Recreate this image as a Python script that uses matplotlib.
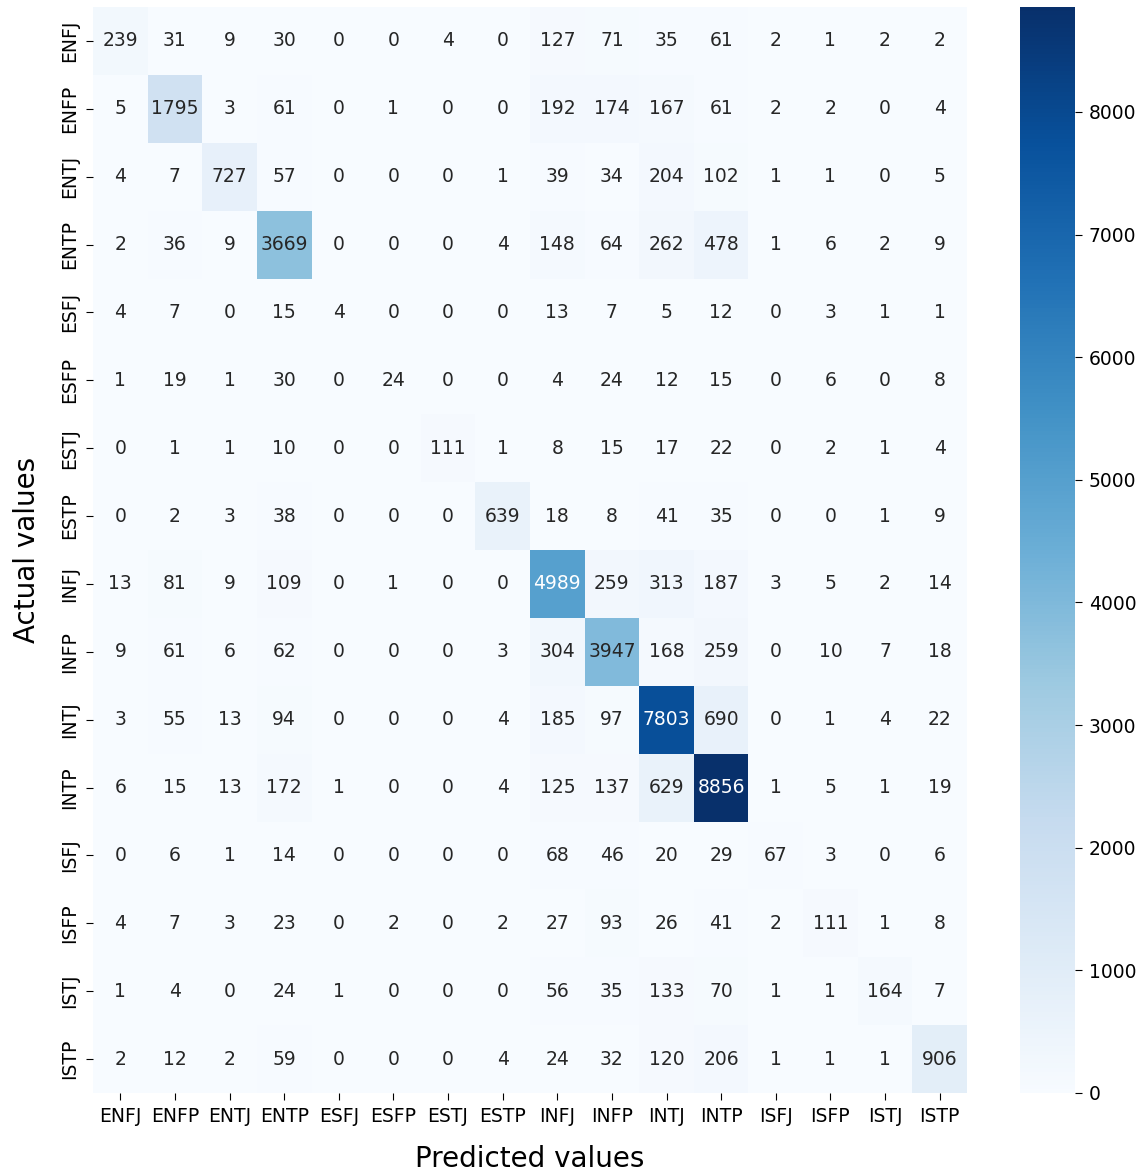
import numpy as np
import matplotlib
matplotlib.use("Agg")
import matplotlib.pyplot as plt
import seaborn as sns

labels = ["ENFJ", "ENFP", "ENTJ", "ENTP", "ESFJ", "ESFP", "ESTJ", "ESTP",
          "INFJ", "INFP", "INTJ", "INTP", "ISFJ", "ISFP", "ISTJ", "ISTP"]

row_enfj = [239, 31, 9, 30, 0, 0, 4, 0, 127, 71, 35, 61, 2, 1, 2, 2]
row_enfp = [5, 1795, 3, 61, 0, 1, 0, 0, 192, 174, 167, 61, 2, 2, 0, 4]
row_entj = [4, 7, 727, 57, 0, 0, 0, 1, 39, 34, 204, 102, 1, 1, 0, 5]
row_entp = [2, 36, 9, 3669, 0, 0, 0, 4, 148, 64, 262, 478, 1, 6, 2, 9]
row_esfj = [4, 7, 0, 15, 4, 0, 0, 0, 13, 7, 5, 12, 0, 3, 1, 1]
row_esfp = [1, 19, 1, 30, 0, 24, 0, 0, 4, 24, 12, 15, 0, 6, 0, 8]
row_estj = [0, 1, 1, 10, 0, 0, 111, 1, 8, 15, 17, 22, 0, 2, 1, 4]
row_estp = [0, 2, 3, 38, 0, 0, 0, 639, 18, 8, 41, 35, 0, 0, 1, 9]
row_infj = [13, 81, 9, 109, 0, 1, 0, 0, 4989, 259, 313, 187, 3, 5, 2, 14]
row_infp = [9, 61, 6, 62, 0, 0, 0, 3, 304, 3947, 168, 259, 0, 10, 7, 18]
row_intj = [3, 55, 13, 94, 0, 0, 0, 4, 185, 97, 7803, 690, 0, 1, 4, 22]
row_intp = [6, 15, 13, 172, 1, 0, 0, 4, 125, 137, 629, 8856, 1, 5, 1, 19]
row_isfj = [0, 6, 1, 14, 0, 0, 0, 0, 68, 46, 20, 29, 67, 3, 0, 6]
row_isfp = [4, 7, 3, 23, 0, 2, 0, 2, 27, 93, 26, 41, 2, 111, 1, 8]
row_istj = [1, 4, 0, 24, 1, 0, 0, 0, 56, 35, 133, 70, 1, 1, 164, 7]
row_istp = [2, 12, 2, 59, 0, 0, 0, 4, 24, 32, 120, 206, 1, 1, 1, 906]

matrix = np.array([row_enfj, row_enfp, row_entj, row_entp, row_esfj, row_esfp,
                   row_estj, row_estp, row_infj, row_infp, row_intj, row_intp,
                   row_isfj, row_isfp, row_istj, row_istp])

fig = plt.figure(figsize=(11.44, 11.74), dpi=100)
W, H = 1144, 1174
ax = fig.add_axes([93 / W, 1 - 1093 / H, (967 - 93) / W, (1093 - 7) / H])
cax = fig.add_axes([1020 / W, 1 - 1093 / H, (1075 - 1020) / W, (1093 - 7) / H])

sns.heatmap(matrix, annot=True, fmt="d", cmap="Blues", ax=ax, cbar_ax=cax,
            xticklabels=labels, yticklabels=labels,
            annot_kws={"fontsize": 13.5})

ax.tick_params(axis="both", labelsize=13.5, length=5, pad=5)
ax.set_yticklabels(labels, rotation=90, va="center")
ax.set_xticklabels(labels, rotation=0)
ax.set_xlabel("Predicted values", fontsize=20, labelpad=14)
ax.set_ylabel("Actual values", fontsize=20, labelpad=14)
cax.tick_params(labelsize=13.5, length=5, pad=5)
cax.set_yticks([0, 1000, 2000, 3000, 4000, 5000, 6000, 7000, 8000])

fig.savefig("out.png", dpi=100)
